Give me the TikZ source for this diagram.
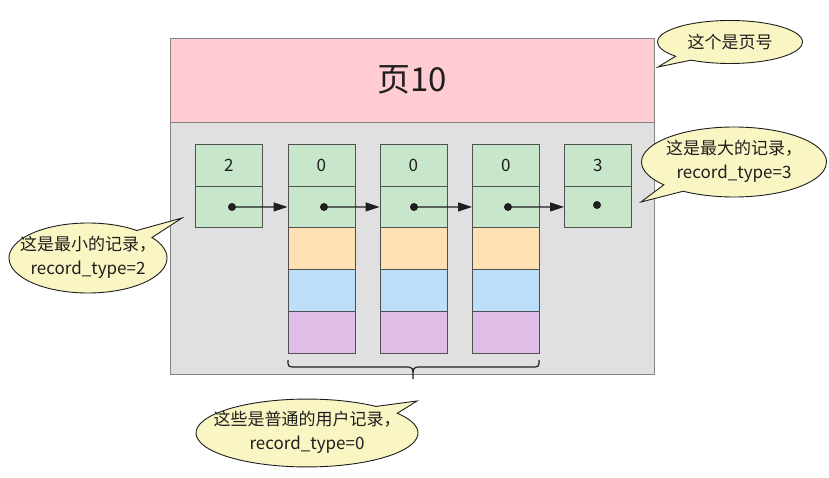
\documentclass[tikz,border=0pt]{standalone}
\usepackage{fontspec}
\setmainfont{Noto Sans CJK SC}
\usetikzlibrary{shapes.callouts,arrows.meta}
\definecolor{hdrpink}{HTML}{FFCCD4}
\definecolor{bodygray}{HTML}{E0E0E0}
\definecolor{rgreen}{HTML}{C8E6C9}
\definecolor{rorange}{HTML}{FFE0B2}
\definecolor{rblue}{HTML}{BBDEFB}
\definecolor{rpurple}{HTML}{E1BEE7}
\definecolor{bubyellow}{HTML}{FAF6C4}
\definecolor{edge}{HTML}{505050}
\definecolor{ink}{HTML}{1E1E1E}
\begin{document}
\begin{tikzpicture}[x=1pt,y=-1pt,
  panel/.style={draw=edge!70, line width=0.8pt, anchor=north west, inner sep=0pt, text=ink},
  cell/.style={draw=edge, line width=0.8pt, anchor=north west, inner sep=0pt,
    minimum width=67pt, minimum height=41.7pt, text=ink, font=\fontsize{17}{20}\selectfont},
  dot/.style={circle, fill=ink, inner sep=0pt, minimum size=8pt},
  arr/.style={draw=ink, line width=1.3pt, -{Triangle[length=14pt,width=9pt]}},
  bubble/.style={ellipse callout, draw=ink, line width=0.9pt, fill=bubyellow, inner sep=0pt,
    text=ink, font=\fontsize{17}{24}\selectfont, callout pointer arc=16},
]
\path[use as bounding box] (0,0) rectangle (829,478);
\fill[white] (0,0) rectangle (829,478);

% page
\node[panel, fill=hdrpink, minimum width=484pt, minimum height=84pt, font=\fontsize{33}{38}\selectfont] (hdr) at (170,38) {页10};
\node[panel, fill=bodygray, minimum width=484pt, minimum height=252pt] (pbody) at (170,122) {};

% record 1 (min)
\node[cell, fill=rgreen] (r1a) at (195,144) {2};
\node[cell, fill=rgreen] (r1b) at (195,185.7) {};
% records 2-4 (user)
\foreach \i/\x in {2/287.5, 3/379.5, 4/472}{
  \node[cell, fill=rgreen] (r\i a) at (\x,144) {0};
  \node[cell, fill=rgreen] (r\i b) at (\x,185.7) {};
  \node[cell, fill=rorange] (r\i c) at (\x,227.4) {};
  \node[cell, fill=rblue] (r\i d) at (\x,269.1) {};
  \node[cell, fill=rpurple] (r\i e) at (\x,310.8) {};
}
% record 5 (max)
\node[cell, fill=rgreen] (r5a) at (564,144) {3};
\node[cell, fill=rgreen] (r5b) at (564,185.7) {};

% pointers
\node[dot] (d1) at (232,207) {};
\node[dot] (d2) at (324,207) {};
\node[dot] (d3) at (414,207) {};
\node[dot] (d4) at (508,207) {};
\node[dot] (d5) at (597,205) {};
\draw[arr] (d1.center) -- (r2b.west);
\draw[arr] (d2.center) -- (r3b.west);
\draw[arr] (d3.center) -- (r4b.west);
\draw[arr] (d4.center) -- (r5b.west);

% brace
\draw[ink, line width=1.2pt] (288,360) .. controls (288,367) .. (296,367) -- (405,367)
  .. controls (413,367) .. (413,379) .. controls (413,367) .. (421,367) -- (531,367)
  .. controls (539,367) .. (539,360);

% callouts
\node[bubble, minimum width=145pt, minimum height=43pt, callout absolute pointer={(658,67)}] (c1) at (730,42)
  {\makebox[0pt]{这个是页号}};
\node[bubble, minimum width=185pt, minimum height=70pt, callout absolute pointer={(641,202)}] (c2) at (734,162)
  {\makebox[0pt]{\begin{tabular}{@{}c@{}}这是最大的记录，\\ record\_type=3\end{tabular}}};
\node[bubble, minimum width=158pt, minimum height=70pt, callout absolute pointer={(182,218)}] (c3) at (88,258)
  {\makebox[0pt]{\begin{tabular}{@{}c@{}}这是最小的记录，\\ record\_type=2\end{tabular}}};
\node[bubble, minimum width=222pt, minimum height=62pt, callout absolute pointer={(417,401)}] (c4) at (307,433)
  {\makebox[0pt]{\begin{tabular}{@{}c@{}}这些是普通的用户记录，\\ record\_type=0\end{tabular}}};
\end{tikzpicture}
\end{document}
